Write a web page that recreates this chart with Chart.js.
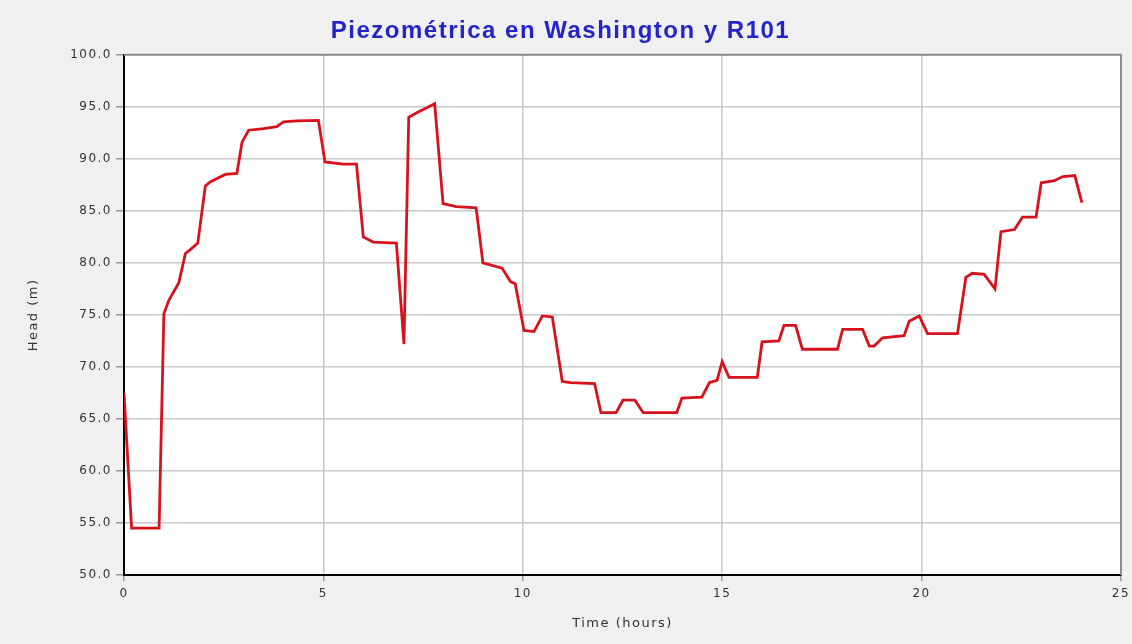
<!DOCTYPE html>
<html>
<head>
<meta charset="utf-8">
<title>Piezométrica en Washington y R101</title>
<script src="https://cdn.jsdelivr.net/npm/chart.js@4.4.1/dist/chart.umd.min.js"></script>
<style>
    html, body { margin: 0; padding: 0; background: #f0f0f0; }
    #wrap { width: 1132px; height: 644px; }
</style>
</head>
<body>
<div id="wrap"><canvas id="headChart" width="1132" height="644"></canvas></div>
<script>
// time (hours) and head (m)
const times = [0, 0.19, 0.88, 1.0, 1.125, 1.375, 1.54, 1.67, 1.85, 2.04,
    2.17, 2.54, 2.83, 2.96, 3.125, 3.5, 3.83, 4.0, 4.33, 4.875,
    5.04, 5.5, 5.83, 6.0, 6.25, 6.83, 7.02, 7.14, 7.33, 7.79,
    8.0, 8.33, 8.83, 9.0, 9.48, 9.69, 9.81, 10.03, 10.28, 10.49,
    10.74, 10.99, 11.2, 11.8, 11.96, 12.34, 12.51, 12.81, 13.02, 13.86,
    13.99, 14.49, 14.68, 14.87, 15.0, 15.17, 15.88, 16.0, 16.42, 16.55,
    16.84, 17.01, 17.89, 18.02, 18.52, 18.69, 18.81, 19.02, 19.56, 19.69,
    19.94, 20.15, 20.9, 21.11, 21.27, 21.57, 21.84, 21.99, 22.33, 22.53,
    22.87, 23.0, 23.33, 23.54, 23.84, 24.02];
const heads = [67.5, 54.5, 54.5, 75.1, 76.4, 78.1, 80.9, 81.3, 81.9, 87.4,
    87.8, 88.5, 88.6, 91.6, 92.75, 92.9, 93.1, 93.55, 93.65, 93.7,
    89.7, 89.5, 89.5, 82.5, 82.0, 81.9, 72.2, 94.0, 94.4, 95.3,
    85.7, 85.4, 85.3, 80.0, 79.5, 78.2, 78.0, 73.5, 73.4, 74.9,
    74.8, 68.6, 68.5, 68.4, 65.6, 65.6, 66.8, 66.8, 65.6, 65.6,
    67.0, 67.1, 68.5, 68.7, 70.5, 69.0, 69.0, 72.4, 72.5, 74.0,
    74.0, 71.7, 71.7, 73.6, 73.6, 72.0, 72.0, 72.8, 73.0, 74.4,
    74.9, 73.2, 73.2, 78.6, 79.0, 78.9, 77.5, 83.0, 83.2, 84.4,
    84.4, 87.7, 87.9, 88.3, 88.4, 85.8];
const xTicks = [0, 5, 10, 15, 20, 25];
const yTicks = [50, 55, 60, 65, 70, 75, 80, 85, 90, 95, 100];

const tickFont = { family: 'DejaVu Sans', size: 12 };
const titleFont = { family: 'DejaVu Sans', size: 13 };

// white plot area, gray frame on top/right, wider letter spacing like the original
const plotFrame = {
    id: 'plotFrame',
    beforeInit(chart) {
        chart.ctx.letterSpacing = '1.5px';
    },
    beforeDraw(chart) {
        const ctx = chart.ctx;
        const a = chart.chartArea;
        ctx.letterSpacing = '1.5px';
        ctx.save();
        ctx.fillStyle = '#ffffff';
        ctx.fillRect(a.left, a.top, a.right - a.left, a.bottom - a.top);
        ctx.restore();
    },
    afterDraw(chart) {
        const ctx = chart.ctx;
        const a = chart.chartArea;
        ctx.save();
        ctx.strokeStyle = '#8c8c8c';
        ctx.lineWidth = 2;
        ctx.beginPath();
        ctx.moveTo(a.left, a.top);
        ctx.lineTo(a.right, a.top);
        ctx.lineTo(a.right, a.bottom);
        ctx.stroke();
        ctx.restore();
    }
};

const ctx = document.getElementById('headChart').getContext('2d');
new Chart(ctx, {
    type: 'line',
    data: {
        datasets: [{
            label: 'Head',
            data: times.map((t, i) => ({ x: t, y: heads[i] })),
            borderColor: '#d8121c',
            borderWidth: 2.8,
            pointRadius: 0,
            tension: 0,
            fill: false
        }]
    },
    options: {
        responsive: false,
        animation: false,
        layout: { padding: { left: 0, right: 11, top: 0, bottom: 0 } },
        plugins: {
            legend: { display: false },
            tooltip: { enabled: false },
            title: {
                display: true,
                text: 'Piezométrica en Washington y R101',
                color: '#2424c8',
                font: { family: 'Liberation Sans', size: 24, weight: 'bold' },
                padding: { top: 17, bottom: 9 }
            }
        },
        scales: {
            x: {
                type: 'linear',
                min: 0,
                max: 25,
                afterBuildTicks: s => { s.ticks = xTicks.map(v => ({ value: v })); },
                afterFit: s => {
                    s.height = 69;
                    s.paddingLeft = 0;
                    s.paddingRight = 0;
                },
                ticks: { color: '#333', font: tickFont, padding: 6, maxRotation: 0 },
                grid: { color: '#c8c8c8', lineWidth: 1.5, tickLength: 6, tickColor: '#999' },
                border: { display: true, color: '#000', width: 2 },
                title: {
                    display: true,
                    text: 'Time (hours)',
                    color: '#333',
                    font: titleFont,
                    padding: { top: 0, bottom: 13 }
                }
            },
            y: {
                min: 50,
                max: 100,
                afterBuildTicks: s => { s.ticks = yTicks.map(v => ({ value: v })); },
                afterFit: s => { s.width = 124; },
                ticks: { color: '#333', font: tickFont, padding: 4, callback: v => v.toFixed(1) },
                grid: { color: '#c8c8c8', lineWidth: 1.5, tickLength: 8, tickColor: '#999' },
                border: { display: true, color: '#000', width: 2 },
                title: {
                    display: true,
                    text: 'Head (m)',
                    color: '#333',
                    font: titleFont,
                    padding: { top: 26, bottom: 0 }
                }
            }
        }
    },
    plugins: [plotFrame]
});
</script>
</body>
</html>
